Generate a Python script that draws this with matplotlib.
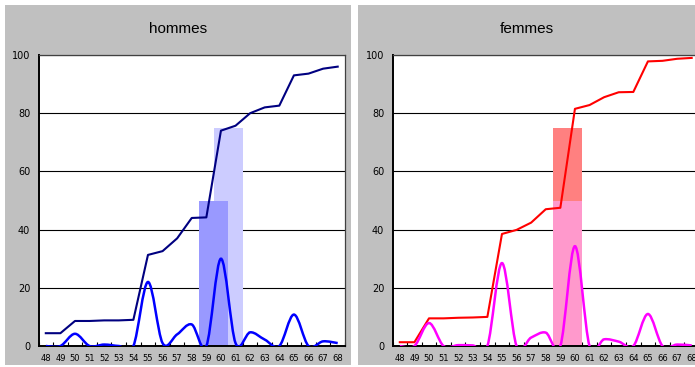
import matplotlib
matplotlib.use("Agg")
import matplotlib.pyplot as plt
from matplotlib.path import Path
from matplotlib.patches import PathPatch, Rectangle

# categories (age)
ages = [48, 49, 50, 51, 52, 53, 54, 55, 56, 57, 58, 59, 60, 61, 62, 63, 64, 65, 66, 67, 68]

# hommes
hommes_cumul = [4.4, 4.4, 8.6, 8.6, 8.8, 8.8, 9.0, 31.3, 32.6, 37.0, 44.0, 44.2, 74.0, 75.7,
                80.0, 82.0, 82.6, 93.0, 93.6, 95.3, 96.0]
hommes_depart = [0.0, 0.0, 4.2, 0.0, 0.5, 0.0, 0.0, 22.0, 1.0, 4.0, 7.4, 0.0, 30.0, 1.0,
                 4.7, 2.2, 0.0, 10.8, 0.0, 1.6, 1.0]
hommes_bars = [(60, 61, 75), (59, 60, 50)]   # (from age, to age, value)

# femmes
femmes_cumul = [1.3, 1.3, 9.5, 9.5, 9.7, 9.8, 10.0, 38.5, 39.9, 42.4, 47.0, 47.5, 81.5, 82.8,
                85.5, 87.2, 87.3, 97.8, 98.0, 98.7, 99.0]
femmes_depart = [0.0, 0.0, 7.9, 0.0, 0.3, 0.2, 0.0, 28.5, 0.0, 2.9, 4.6, 0.0, 34.3, 0.0,
                 2.3, 1.5, 0.0, 11.0, 0.0, 0.5, 0.2]
femmes_bars = [(59, 60, 75), (59, 60, 50)]

y_ticks = [0, 20, 40, 60, 80, 100]

W, H = 695, 367


def smooth_path(xs, ys):
    """Bezier path through the points, like Excel's smoothed line."""
    pts = list(zip(xs, ys))
    verts = [pts[0]]
    codes = [Path.MOVETO]
    n = len(pts)
    for i in range(n - 1):
        p0 = pts[i - 1] if i > 0 else pts[i]
        p1 = pts[i]
        p2 = pts[i + 1]
        p3 = pts[i + 2] if i + 2 < n else pts[i + 1]
        c1 = (p1[0] + (p2[0] - p0[0]) / 6, p1[1] + (p2[1] - p0[1]) / 6)
        c2 = (p2[0] - (p3[0] - p1[0]) / 6, p2[1] - (p3[1] - p1[1]) / 6)
        verts += [c1, c2, p2]
        codes += [Path.CURVE4] * 3
    return Path(verts, codes)


def draw_panel(fig, px_left, px_panel, title, cumul, depart, bars, bar_colors,
               cumul_color, depart_color):
    # grey frame behind the chart
    x0, x1 = px_panel
    fig.patches.append(Rectangle((x0 / W, 2 / H), (x1 - x0) / W, 360 / H,
                                 transform=fig.transFigure, facecolor="#c0c0c0",
                                 edgecolor="none", zorder=-10))
    fig.text((x0 + x1) / 2 / W, 1 - 29 / H, title, ha="center", va="center",
             fontsize=11, family="Liberation Sans")

    ax = fig.add_axes([px_left / W, 21 / H, 306.5 / W, 291 / H])
    ax.set_facecolor("white")
    pos = list(range(len(ages)))

    for (a0, a1, v), c in zip(bars, bar_colors):
        i0, i1 = ages.index(a0), ages.index(a1)
        ax.bar((i0 + i1) / 2, v, width=i1 - i0 + 1, color=c, linewidth=0, zorder=2)

    ax.plot(pos, cumul, color=cumul_color, lw=1.5, zorder=3)
    ax.add_patch(PathPatch(smooth_path(pos, depart), facecolor="none",
                           edgecolor=depart_color, lw=1.8, zorder=4))

    ax.set_xlim(-0.5, len(ages) - 0.5)
    ax.set_ylim(0, 100)
    ax.set_yticks(y_ticks)
    ax.set_yticklabels([str(t) for t in y_ticks], fontsize=7, family="DejaVu Sans")
    ax.set_xticks(pos)
    ax.set_xticklabels([str(a) for a in ages], fontsize=6, family="DejaVu Sans")
    ax.set_xticks([p - 0.5 for p in pos] + [len(ages) - 0.5], minor=True)
    ax.tick_params(axis="x", which="major", length=0, pad=6)
    ax.tick_params(axis="x", which="minor", length=3, direction="in", width=0.8)
    ax.tick_params(axis="y", length=0, pad=6)
    ax.grid(axis="y", color="black", lw=0.8, zorder=1)
    ax.set_axisbelow(True)
    for side in ["left", "bottom"]:
        ax.spines[side].set_linewidth(1.4)
    for side in ["top", "right"]:
        ax.spines[side].set_linewidth(0.9)
        ax.spines[side].set_color("#404040")
    return ax


fig = plt.figure(figsize=(W / 100, H / 100), dpi=100)
fig.patch.set_facecolor("white")

draw_panel(fig, 38.5, (5, 351), "hommes", hommes_cumul, hommes_depart, hommes_bars,
           ["#ccccff", "#9999ff"], "#000080", "#0000ff")
draw_panel(fig, 392.5, (358, 695), "femmes", femmes_cumul, femmes_depart, femmes_bars,
           ["#ff8080", "#ff99cc"], "#ff0000", "#ff00ff")

fig.savefig("out.png", dpi=100)
